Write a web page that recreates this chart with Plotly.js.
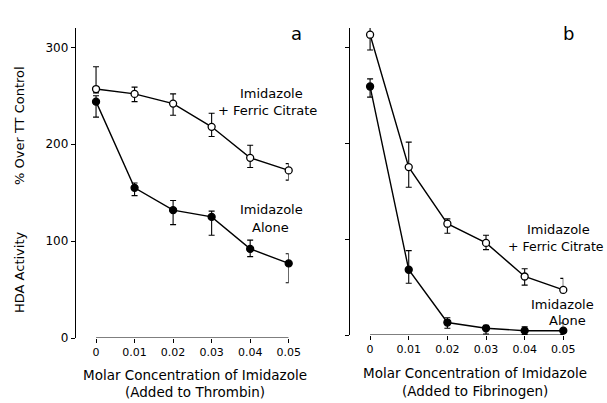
<!DOCTYPE html>
<html>
<head>
<meta charset="utf-8">
<script src="https://cdn.plot.ly/plotly-3.0.1.min.js"></script>
<style>html,body{margin:0;padding:0;background:#fff;}#chart{width:607px;height:403px;}</style>
</head>
<body>
<div id="chart"></div>
<script>
// Molar concentration of imidazole (x values / tick labels)
const conc = [0, 0.01, 0.02, 0.03, 0.04, 0.05];
const concLabels = ["0", "0.01", "0.02", "0.03", "0.04", "0.05"];
const yTicks = [0, 100, 200, 300];
const yTickLabels = ["0", "100", "200", "300"];

// Panel a: added to thrombin
const aFerric = [257, 252, 242, 218, 186, 173];
const aFerricPlus = [23, 7, 10, 14, 13, 7];
const aFerricMinus = [4, 8, 12, 10, 10, 10];
const aAlone = [244, 155, 132, 125, 92, 77];
const aAlonePlus = [6, 5, 10, 6, 9, 10];
const aAloneMinus = [16, 8, 15, 19, 8, 20];

// Panel b: added to fibrinogen
const bFerric = [313, 175, 116, 96, 61, 47];
const bFerricPlus = [26, 26, 5, 8, 8, 12];
const bFerricMinus = [16, 21, 10, 7, 9, 3];
const bAlone = [259, 68, 13, 7, 4.5, 4.5];
const bAlonePlus = [8, 20, 5, 3, 4, 8];
const bAloneMinus = [11, 14, 6, 6, 4, 4];

const W = 607, H = 403;
const px = v => v / W;
const py = v => 1 - v / H;
const FONT = "DejaVu Sans, sans-serif";

function errs(plus, minus) {
  return {type: 'data', symmetric: false, array: plus, arrayminus: minus,
          color: '#000', thickness: 1.1, width: 3};
}
function trace(x, y, plus, minus, open, xa, ya) {
  return {
    x: x, y: y, xaxis: xa, yaxis: ya, type: 'scatter', mode: 'lines+markers',
    line: {color: '#000', width: 1.4},
    marker: {symbol: 'circle', size: 7, color: open ? '#fff' : '#000',
             line: {color: '#000', width: 1.3}},
    error_y: errs(plus, minus),
    cliponaxis: false, showlegend: false, hoverinfo: 'skip'
  };
}

const data = [
  trace(conc, aAlone, aAlonePlus, aAloneMinus, false, 'x', 'y'),
  trace(conc, aFerric, aFerricPlus, aFerricMinus, true, 'x', 'y'),
  trace(conc, bAlone, bAlonePlus, bAloneMinus, false, 'x2', 'y2'),
  trace(conc, bFerric, bFerricPlus, bFerricMinus, true, 'x2', 'y2')
];

function xaxis(dom, anchor) {
  return {domain: dom, anchor: anchor, range: [-0.0052, 0.05],
          tickvals: conc, ticktext: concLabels, ticks: 'outside', ticklen: 4,
          tickwidth: 1, tickcolor: '#000', showline: false, showgrid: false,
          zeroline: false, fixedrange: true,
          tickfont: {family: FONT, size: 11, color: '#000'}};
}
function yaxis(dom, anchor, labels) {
  return {domain: dom, anchor: anchor, range: [0, 320],
          tickvals: yTicks, ticktext: yTickLabels, showticklabels: labels,
          ticks: 'outside', ticklen: 4, tickwidth: 1, tickcolor: '#000',
          showline: true, linecolor: '#000', linewidth: 1.2,
          showgrid: false, zeroline: false, fixedrange: true,
          tickfont: {family: FONT, size: 12, color: '#000'}};
}

function ann(text, x, y, size, extra) {
  return Object.assign({text: text, x: px(x), y: py(y), xref: 'paper', yref: 'paper',
    showarrow: false, xanchor: 'center', yanchor: 'middle',
    font: {family: FONT, size: size, color: '#000'}}, extra || {});
}

const layout = {
  width: W, height: H,
  margin: {l: 0, r: 0, t: 0, b: 0},
  paper_bgcolor: '#fff', plot_bgcolor: 'rgba(0,0,0,0)',
  xaxis: xaxis([px(76), px(288.7)], 'y'),
  yaxis: yaxis([py(338), py(28)], 'x', true),
  xaxis2: xaxis([px(350), px(563.3)], 'y2'),
  yaxis2: yaxis([py(335), py(28)], 'x2', false),
  shapes: [
    {type: 'line', xref: 'x', yref: 'y', x0: conc[0], x1: conc[conc.length-1], y0: 0, y1: 0,
     line: {color: '#000', width: 1.2}},
    {type: 'line', xref: 'x2', yref: 'y2', x0: conc[0], x1: conc[conc.length-1], y0: 0, y1: 0,
     line: {color: '#000', width: 1.2}}
  ],
  annotations: [
    ann('a', 296, 33, 18),
    ann('b', 568, 33, 18),
    ann('% Over TT Control', 19, 126, 13, {textangle: -90}),
    ann('HDA Activity', 19, 272, 13, {textangle: -90}),
    ann('Imidazole', 271, 93, 13),
    ann('+ Ferric Citrate', 267, 110, 13),
    ann('Imidazole', 271, 209, 13),
    ann('Alone', 270, 227, 13),
    ann('Imidazole', 558, 230, 13),
    ann('+ Ferric Citrate', 606, 246, 12.5, {xanchor: 'right'}),
    ann('Imidazole', 562, 304, 13),
    ann('Alone', 567, 320, 13),
    ann('Molar Concentration of Imidazole', 195, 375, 13.5),
    ann('(Added to Thrombin)', 195, 392, 13.5),
    ann('Molar Concentration of Imidazole', 475, 373, 13.5),
    ann('(Added to Fibrinogen)', 475, 391, 13.5)
  ]
};

Plotly.newPlot('chart', data, layout, {displayModeBar: false, staticPlot: true});
</script>
</body>
</html>
